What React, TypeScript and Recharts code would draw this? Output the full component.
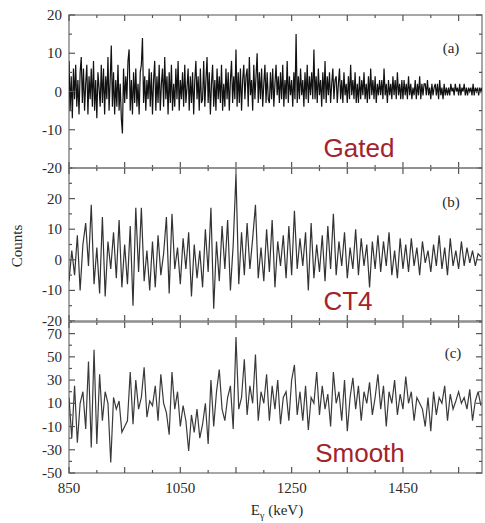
import React from 'react';
import { LineChart, Line, XAxis, YAxis, ReferenceArea } from 'recharts';

// ---------- data ----------
const startKeV = 850;
const gatedBinKeV = 2;
const ct4BinKeV = 5;
const smoothBinKeV = 5;

const gatedCounts = [
  8, -5, 4, -7, 6, -2, 7, -4, 3, -6, 5, 9, -3, 6, -5, 2, 7, -6, 4, -2,
  6, -4, 8, -5, 3, -7, 5, 1, -4, 7, -3, 6, -6, 4, -2, 9, -5, 3, 12, -4,
  5, -6, 3, -4, 7, -5, 2, -7, -11, 6, -3, 4, -2, 8, 11, -5, 3, -6, 5, -3,
  6, -4, 2, -6, 5, 7, 14, -3, 4, -5, 3, -2, 6, -4, 5, -6, 3, 8, -5, 4,
  -3, 7, -5, 2, 6, -4, 9, -2, 4, -6, 5, -3, 7, -5, 2, -4, 6, -2, 8, -5,
  3, -2, 5, -4, 7, -3, 1, 6, -5, 4, -3, 5, -6, 3, 8, -2, 4, -5, 6, -3,
  -2, 8, -4, 3, 9, -3, 5, -6, 2, 7, -4, 3, -5, 6, -2, 4, -3, 7, -5, 2,
  -4, 6, -2, 5, -5, 3, 8, -3, 4, -2, 11, -4, 5, -3, 6, -5, 3, 7, -2, 4,
  6, -4, 9, -1, 3, -5, 7, -2, 4, 10, -3, 5, -2, 6, -4, 2, 7, -3, 5, -2,
  -3, 5, -2, 6, -4, 2, 7, -1, 4, -3, 5, -2, 7, -4, 3, -2, 8, -3, 4, -1,
  3, -4, 5, -2, 15, -3, 4, -2, 6, -1, 3, -4, 5, -2, 7, -3, 4, -1, 5, -2,
  11, -2, 4, -3, 6, -1, 3, -4, 5, -2, 8, -3, 4, -1, 5, -3, 2, 6, -2, 3,
  4, -3, 2, 6, -2, 3, -3, 5, -1, 2, -3, 4, -2, 7, -1, 3, -2, 5, -3, 2,
  -3, 4, -2, 3, -1, 5, -2, 2, -3, 4, -2, 6, -1, 3, -2, 4, -3, 2, -1, 3,
  -1, 3, -2, 6, -1, 2, -3, 3, -1, 2, -2, 4, -1, 3, -2, 5, -1, 2, -2, 3,
  -2, 3, -1, 2, -2, 4, -1, 2, -2, 1, -1, 3, -2, 2, -1, 4, -2, 2, -1, 2,
  2, -1, 3, -1, 1, -2, 2, -1, 1, 2, -1, 2, -2, 3, -1, 1, -2, 2, -1, 1,
  -1, 1, -1, 2, 0, 1, -1, 2, 0, 1, -1, 2, -1, 1, 0, 2, -1, 1, -1, 1,
  0, 1, -1, 2, -1, 1, 0, 1, -1, 1, 0, 1,
];

const ct4Counts = [
  -7, 3, -5, 8, -10, 5, 12, -2, 18, -8,
  4, -11, 14, -12, 6, -3, 9, -6, 13, -9,
  5, -8, 11, -15, 17, -4, 17, -7, 3, -10,
  6, -9, 8, -5, 2, 14, -11, 15, -3, 4,
  -8, 7, -3, 9, -12, 5, -6, 3, -9, 10,
  -4, 17, -16, 6, -7, 11, -3, 13, -10, 5,
  28, -8, 9, -5, 12, -3, 7, 18, -6, 4,
  -7, 10, -4, 13, -9, 6, -2, 8, -6, 11,
  -5, 16, -3, 7, -2, 9, -10, 12, -6, 5,
  -4, 8, -7, 11, -3, 15, -5, 6, -2, 9,
  -6, 4, -3, 10, -5, 7, -2, 5, -9, 6,
  -3, 8, -4, 6, -2, 9, -5, 3, -6, 7,
  -3, 5, -4, 7, -2, 4, -5, 6, -1, 3,
  -4, 5, -2, 8, -3, 4, -5, 7, -2, 3,
  -3, 6, -2, 4, -1, 3, -2, 2, 1,
];

const smoothCounts = [
  15, -20, 25, -24, 10, 20, -12, 46, -28, 56,
  -25, 35, -5, 20, 10, -41, 15, 5, 12, -15,
  -10, -5, 37, -8, 30, 5, 15, 41, -2, 12,
  8, 25, -5, 35, 10, 2, -17, 37, 5, 20,
  -10, 8, -5, -31, 0, -15, 5, -20, -8, 10,
  -25, 30, -10, 20, 39, 5, -5, 15, 25, -12,
  67, 5, 15, 48, 0, 25, 10, 52, -5, 20,
  10, 35, -5, 25, 5, 30, -8, 15, 20, -5,
  30, 43, 0, 20, -5, 25, -13, 15, 10, 37,
  0, 25, 5, 18, -10, 37, 10, 20, -5, 30,
  -14, 15, 32, 5, 25, -5, 20, 10, 28, 0,
  15, 35, 5, 25, -10, 20, 10, 30, 0, 18,
  5, 33, 10, 20, -5, 15, 10, 5, -10, 15,
  -14, 20, 0, 15, 10, 25, -5, 18, 5, 12,
  20, 10, 15, 5, 22, -5, 12, 20, 8,
];

const xDomain = [850, 1592];
const xTicks = [850, 900, 950, 1000, 1050, 1100, 1150, 1200, 1250, 1300, 1350, 1400, 1450, 1500, 1550];
const xMajorTicks = [850, 950, 1050, 1150, 1250, 1350, 1450, 1550];
const xTickLabels = [850, 1050, 1250, 1450];

const yTicksA = [-20, -15, -10, -5, 0, 5, 10, 15, 20];
const yLabelsA = [-20, -10, 0, 10, 20];
const yDomainA = [-20, 20];

const yTicksB = [-20, -15, -10, -5, 0, 5, 10, 15, 20, 25, 30];
const yLabelsB = [-20, -10, 0, 10, 20];
const yDomainB = [-20, 30];

const yTicksC = [-50, -40, -30, -20, -10, 0, 10, 20, 30, 40, 50, 60, 70, 80];
const yLabelsC = [-50, -30, -10, 10, 30, 50, 70];
const yDomainC = [-50, 80];

const gatedData = gatedCounts.map((c, i) => ({ e: startKeV + i * gatedBinKeV, c }));
const ct4Data = ct4Counts.map((c, i) => ({ e: startKeV + i * ct4BinKeV, c }));
const smoothData = smoothCounts.map((c, i) => ({ e: startKeV + i * smoothBinKeV, c }));

// ---------- styles ----------
const FRAME = '#8a8a8a';
const TICK = '#555';
const LABEL = '#2a2a2a';
const SERIF = '"Liberation Serif", "DejaVu Serif", serif';
const SANS = '"Liberation Sans", Arial, sans-serif';
const RED = '#a3232b';

const XTick = (props: any) => {
  const { x, y, payload, side, showLabels } = props;
  const v = payload.value;
  const len = xMajorTicks.includes(v) ? 6 : 3;
  const dir = side === 'top' ? 1 : -1;
  return (
    <g>
      <line x1={x} x2={x} y1={y} y2={y + dir * len} stroke={TICK} strokeWidth={1.2} />
      {showLabels && xTickLabels.includes(v) ? (
        <text x={x} y={y + 20} textAnchor="middle" fontFamily={SERIF} fontSize={15} fill={LABEL}>
          {v}
        </text>
      ) : null}
    </g>
  );
};

const YTick = (props: any) => {
  const { x, y, payload, side, labels } = props;
  const v = payload.value;
  const major = labels.includes(v);
  const len = major ? 6 : 3;
  const dir = side === 'left' ? 1 : -1;
  return (
    <g>
      <line x1={x} x2={x + dir * len} y1={y} y2={y} stroke={TICK} strokeWidth={1.2} />
      {side === 'left' && major ? (
        <text x={x - 7} y={y + 5} textAnchor="end" fontFamily={SERIF} fontSize={15} fill={LABEL}>
          {v}
        </text>
      ) : null}
    </g>
  );
};

type PanelProps = {
  data: { e: number; c: number }[];
  top: number;
  height: number;
  marginTop: number;
  marginBottom: number;
  yDomain: number[];
  yTicks: number[];
  yLabels: number[];
  showXLabels: boolean;
  stroke: string;
  strokeWidth: number;
};

const Panel = (p: PanelProps) => (
  <div style={{ position: 'absolute', left: 0, top: p.top }}>
    <LineChart
      width={485}
      height={p.height}
      data={p.data}
      margin={{ top: p.marginTop, right: 0, bottom: p.marginBottom, left: 30 }}
    >
      <XAxis
        xAxisId="b"
        dataKey="e"
        type="number"
        domain={xDomain}
        allowDataOverflow
        ticks={xTicks}
        interval={0}
        height={1}
        tickSize={0}
        tickMargin={0}
        axisLine={false}
        tickLine={false}
        tick={<XTick side="bottom" showLabels={p.showXLabels} />}
      />
      <XAxis
        xAxisId="t"
        orientation="top"
        dataKey="e"
        type="number"
        domain={xDomain}
        allowDataOverflow
        ticks={xTicks}
        interval={0}
        height={1}
        tickSize={0}
        tickMargin={0}
        axisLine={false}
        tickLine={false}
        tick={<XTick side="top" showLabels={false} />}
      />
      <YAxis
        yAxisId="l"
        type="number"
        domain={p.yDomain}
        allowDataOverflow
        ticks={p.yTicks}
        interval={0}
        width={39}
        tickSize={0}
        tickMargin={0}
        axisLine={false}
        tickLine={false}
        tick={<YTick side="left" labels={p.yLabels} />}
      />
      <YAxis
        yAxisId="r"
        orientation="right"
        type="number"
        domain={p.yDomain}
        allowDataOverflow
        ticks={p.yTicks}
        interval={0}
        width={3}
        tickSize={0}
        tickMargin={0}
        axisLine={false}
        tickLine={false}
        tick={<YTick side="right" labels={p.yLabels} />}
      />
      <Line
        xAxisId="b"
        yAxisId="l"
        dataKey="c"
        type="linear"
        stroke={p.stroke}
        strokeWidth={p.strokeWidth}
        dot={false}
        activeDot={false}
        isAnimationActive={false}
      />
      <Line
        xAxisId="t"
        yAxisId="r"
        dataKey="c"
        type="linear"
        stroke="none"
        strokeWidth={0}
        dot={false}
        activeDot={false}
        isAnimationActive={false}
        legendType="none"
      />
      <ReferenceArea
        xAxisId="b"
        yAxisId="l"
        x1={xDomain[0]}
        x2={xDomain[1]}
        y1={p.yDomain[0]}
        y2={p.yDomain[1]}
        fill="none"
        fillOpacity={0}
        stroke={FRAME}
        strokeWidth={1.5}
        ifOverflow="visible"
      />
    </LineChart>
  </div>
);

export default function App() {
  return (
    <div style={{ position: 'absolute', left: 0, top: 0, width: 485, height: 523, background: '#fff', overflow: 'hidden' }}>
      <Panel data={gatedData} top={0} height={179} marginTop={14} marginBottom={10} yDomain={yDomainA} yTicks={yTicksA} yLabels={yLabelsA} showXLabels={false} stroke="#111" strokeWidth={1.2} />
      <Panel data={ct4Data} top={157} height={175} marginTop={10} marginBottom={10} yDomain={yDomainB} yTicks={yTicksB} yLabels={yLabelsB} showXLabels={false} stroke="#333" strokeWidth={1.2} />
      <Panel data={smoothData} top={311} height={212} marginTop={10} marginBottom={49} yDomain={yDomainC} yTicks={yTicksC} yLabels={yLabelsC} showXLabels={true} stroke="#3a3a3a" strokeWidth={1.2} />
      <svg width={485} height={523} style={{ position: 'absolute', left: 0, top: 0, pointerEvents: 'none' }}>
        <text x={22} y={246} transform="rotate(-90, 22, 246)" textAnchor="middle" fontFamily={SERIF} fontSize={15} fill={LABEL}>
          Counts
        </text>
        <text x={277} y={515} textAnchor="middle" fontFamily={SERIF} fontSize={15} fill={LABEL}>
          E<tspan fontSize={10} dy={4}>γ</tspan>
          <tspan dy={-4}> (keV)</tspan>
        </text>
        <text x={451} y={53} textAnchor="middle" fontFamily={SERIF} fontSize={15} fill={LABEL}>(a)</text>
        <text x={451} y={207} textAnchor="middle" fontFamily={SERIF} fontSize={15} fill={LABEL}>(b)</text>
        <text x={453} y={358} textAnchor="middle" fontFamily={SERIF} fontSize={15} fill={LABEL}>(c)</text>
        <text x={359} y={157} textAnchor="middle" fontFamily={SANS} fontSize={26} fill={RED}>Gated</text>
        <text x={348} y={310} textAnchor="middle" fontFamily={SANS} fontSize={26} fill={RED}>CT4</text>
        <text x={360} y={462} textAnchor="middle" fontFamily={SANS} fontSize={26} fill={RED}>Smooth</text>
      </svg>
    </div>
  );
}
